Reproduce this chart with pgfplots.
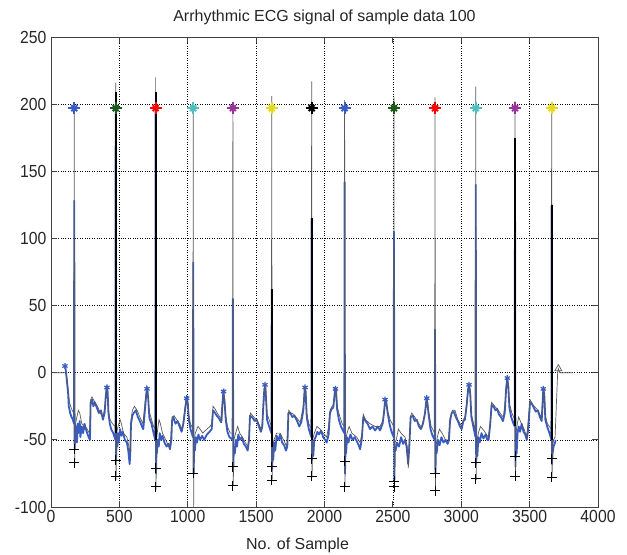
\documentclass[border=0pt]{standalone}
\usepackage{fontspec}
\setmainfont{Liberation Sans}[FakeStretch=0.9]
\newfontfamily\titlefont{Liberation Sans}
\usepackage{pgfplots}
\pgfplotsset{compat=1.18}
\usepackage{pgfplotstable}

\definecolor{ecgblue}{rgb}{0.22,0.36,0.76}
\definecolor{mdgreen}{rgb}{0.1,0.35,0.1}
\definecolor{mcyan}{rgb}{0.3,0.75,0.75}
\definecolor{mmag}{rgb}{0.6,0.2,0.6}
\definecolor{myel}{rgb}{0.9,0.85,0.1}

% thin grey trace
\pgfplotstableread{
x y
20 0
110 0
118 -5
125 -12
135 -22
150 -27
165 -30
168 -30
170 200
173 -68
177 -40
185 -35
200 -28
210 -30
225 -38
250 -40
265 -42
280 -45
285 -38
290 -20
300 -18
320 -22
340 -25
360 -30
380 -33
395 -25
405 -12
412 -12
420 -28
432 -35
450 -38
468 -40
471 -45
473 216
476 -80
480 -45
490 -40
505 -35
515 -38
530 -45
555 -48
570 -55
580 -60
585 -35
595 -28
610 -25
630 -28
650 -33
672 -38
690 -20
700 -10
708 -12
715 -28
730 -33
750 -40
763 -42
765 220
768 -87
772 -50
780 -42
790 -35
800 -38
815 -45
830 -48
848 -52
865 -55
875 -50
885 -33
900 -32
920 -35
940 -38
960 -42
975 -30
988 -18
996 -18
1005 -30
1020 -38
1038 -42
1040 198
1043 -100
1047 -50
1055 -45
1075 -40
1090 -42
1110 -45
1140 -42
1163 -40
1175 -38
1185 -25
1200 -27
1215 -30
1235 -33
1250 -35
1258 -15
1265 -13
1275 -30
1290 -40
1310 -45
1328 -45
1330 200
1333 -84
1337 -50
1350 -45
1365 -40
1380 -45
1400 -48
1420 -52
1440 -55
1450 -45
1458 -30
1475 -32
1500 -35
1520 -38
1540 -43
1555 -25
1563 -9
1570 -10
1578 -30
1595 -35
1612 -40
1614 206
1617 -80
1621 -55
1630 -50
1650 -45
1675 -45
1700 -50
1724 -55
1732 -45
1738 -28
1755 -30
1775 -31
1800 -34
1822 -37
1845 -25
1856 -11
1862 -12
1870 -30
1885 -38
1904 -42
1906 217
1909 -78
1913 -50
1925 -45
1945 -40
1967 -42
1990 -45
2016 -48
2030 -40
2040 -28
2055 -25
2065 -24
2078 -12
2085 -12
2092 -25
2110 -32
2130 -38
2145 -40
2147 203
2150 -85
2154 -50
2165 -45
2180 -40
2200 -45
2236 -48
2260 -52
2275 -45
2284 -31
2300 -35
2333 -38
2370 -40
2406 -40
2430 -35
2442 -20
2450 -20
2460 -28
2480 -35
2506 -40
2508 205
2511 -85
2515 -52
2525 -50
2540 -42
2560 -45
2589 -48
2605 -55
2613 -71
2620 -50
2630 -32
2638 -30
2660 -33
2690 -38
2711 -41
2735 -30
2746 -19
2752 -20
2760 -28
2780 -40
2806 -45
2808 205
2811 -88
2815 -55
2825 -48
2840 -42
2860 -45
2885 -50
2906 -50
2915 -40
2918 -34
2935 -28
2954 -28
2975 -35
3003 -40
3015 -35
3027 -33
3045 -18
3057 -10
3064 -12
3072 -30
3090 -38
3104 -42
3106 213
3109 -80
3113 -52
3125 -45
3140 -40
3165 -43
3198 -48
3210 -40
3222 -22
3245 -25
3271 -28
3290 -31
3308 -33
3325 -18
3336 -4
3342 -6
3350 -22
3370 -30
3391 -35
3393 202
3396 -78
3400 -45
3410 -38
3420 -33
3440 -38
3460 -42
3479 -48
3490 -35
3503 -20
3525 -24
3552 -27
3575 -31
3588 -34
3595 -20
3600 -12
3606 -14
3615 -32
3630 -38
3659 -42
3661 197
3664 -78
3668 -55
3675 -50
3686 -48
3695 -25
3705 0
3710 3
3720 0
3817 0
}\greytrace

% thick blue trace
\pgfplotstableread{
x y
102 5
108 2
115 -5
125 -15
130 -25
140 -30
150 -33
160 -35
168 -38
170 128
173 -57
177 -45
180 -50
185 -40
190 -52
195 -38
200 -45
210 -36
215 -48
225 -40
235 -45
245 -38
255 -42
265 -45
275 -48
285 -50
290 -22
300 -20
310 -25
320 -22
335 -26
350 -30
365 -28
380 -35
392 -30
400 -18
408 -10
414 -14
420 -30
430 -38
440 -42
455 -45
471 -50
473 200
476 -65
480 -50
485 -55
490 -45
495 -52
505 -42
515 -47
525 -44
540 -50
555 -52
565 -58
575 -68
580 -60
585 -38
595 -32
605 -30
620 -28
635 -33
650 -36
665 -40
675 -42
685 -30
695 -18
702 -12
710 -18
720 -34
735 -38
750 -45
763 -50
765 195
768 -75
772 -55
775 -60
780 -50
788 -55
795 -45
805 -50
815 -47
830 -52
845 -55
858 -53
870 -57
880 -50
885 -36
895 -33
910 -38
925 -36
940 -40
955 -44
968 -38
980 -28
992 -19
1000 -22
1008 -35
1020 -42
1038 -48
1040 82
1043 -75
1047 -55
1052 -58
1060 -48
1068 -52
1078 -46
1090 -50
1105 -47
1120 -50
1140 -46
1160 -44
1175 -42
1185 -28
1200 -30
1212 -32
1228 -34
1245 -37
1252 -25
1260 -15
1268 -20
1278 -35
1290 -44
1305 -48
1328 -50
1330 55
1333 -72
1337 -55
1345 -60
1352 -50
1360 -55
1370 -46
1380 -50
1395 -48
1410 -53
1425 -55
1438 -58
1448 -50
1455 -32
1470 -33
1490 -36
1505 -35
1520 -40
1535 -44
1545 -40
1552 -25
1560 -12
1567 -10
1574 -22
1580 -35
1595 -40
1612 -45
1614 62
1617 -72
1621 -60
1625 -65
1632 -52
1640 -58
1650 -47
1665 -50
1675 -46
1690 -52
1705 -54
1718 -58
1728 -55
1736 -30
1750 -30
1765 -33
1780 -32
1800 -36
1815 -40
1830 -37
1845 -28
1855 -12
1862 -14
1870 -33
1885 -42
1904 -48
1906 115
1909 -65
1913 -55
1918 -62
1925 -50
1935 -48
1948 -44
1960 -46
1975 -43
1990 -48
2005 -50
2016 -52
2030 -46
2040 -30
2052 -27
2064 -26
2072 -18
2078 -11
2085 -14
2092 -27
2105 -35
2120 -40
2145 -45
2147 142
2150 -75
2154 -55
2158 -60
2165 -48
2175 -52
2190 -46
2205 -50
2220 -48
2236 -51
2250 -54
2260 -57
2272 -50
2284 -33
2300 -36
2315 -38
2333 -42
2350 -40
2370 -43
2390 -40
2406 -43
2425 -38
2437 -28
2443 -20
2452 -22
2462 -30
2475 -38
2490 -44
2506 -48
2508 105
2511 -80
2515 -55
2520 -58
2530 -52
2545 -55
2560 -48
2575 -53
2589 -50
2600 -55
2612 -68
2620 -55
2630 -33
2645 -32
2660 -36
2675 -35
2690 -40
2705 -42
2720 -38
2735 -30
2745 -20
2752 -22
2760 -30
2775 -42
2790 -47
2806 -50
2808 32
2811 -75
2815 -57
2820 -60
2830 -50
2842 -54
2855 -48
2870 -52
2885 -50
2900 -53
2910 -50
2918 -36
2930 -30
2945 -29
2960 -33
2975 -36
2990 -40
3003 -42
3015 -36
3027 -35
3040 -24
3050 -12
3058 -9
3066 -16
3074 -33
3088 -40
3104 -48
3106 140
3109 -68
3113 -57
3118 -62
3125 -48
3135 -52
3148 -45
3162 -49
3178 -46
3190 -50
3200 -50
3212 -38
3222 -24
3235 -25
3250 -28
3263 -27
3275 -31
3290 -33
3305 -36
3318 -30
3328 -12
3336 -4
3344 -10
3352 -26
3365 -33
3378 -37
3391 -40
3393 170
3396 -70
3400 -50
3405 -60
3412 -45
3420 -40
3430 -44
3442 -38
3455 -44
3468 -46
3479 -50
3490 -42
3503 -22
3515 -23
3530 -26
3545 -29
3560 -28
3575 -33
3588 -36
3595 -22
3600 -12
3607 -16
3615 -35
3628 -40
3645 -45
3659 -50
3661 125
3664 -68
3668 -60
3675 -55
3686 -52
3690 -50
}\bluetrace

% thick black R-wave segments
\pgfplotstableread{
x y
473 -45
473 209
nan nan
765 -50
765 209
nan nan
1614 -55
1614 62
nan nan
1906 -50
1906 115
nan nan
3393 -40
3393 175
nan nan
3661 -50
3661 125
}\blackspikes

% detected R peaks
\pgfplotstableread{
x y c
170 197 a
473 197 b
765 197 c
1040 197 d
1330 197 e
1614 197 f
1906 197 g
2147 197 a
2508 197 b
2808 197 c
3106 197 d
3393 197 e
3661 197 f
}\rpeaks

% P wave peaks
\pgfplotstableread{
x y
102 5
409 -11
702 -12
992 -19
1262 -14
1565 -9
1858 -11
2080 -12
2443 -20
2748 -19
3057 -9
3337 -4
3600 -12
}\ppeaks

% S wave markers
\pgfplotstableread{
x y
170 -67
170 -57
473 -77
473 -65
765 -85
765 -71
1040 -75
1330 -84
1330 -70
1614 -80
1614 -70
1906 -77
1906 -64
2147 -85
2147 -66
2508 -85
2508 -81
2808 -88
2808 -75
3106 -79
3106 -67
3393 -77
3393 -62
3661 -78
3661 -64
}\swaves

\begin{document}
\begin{tikzpicture}
\begin{axis}[
  name=ax,
  width=547pt, height=470pt, scale only axis,
  xmin=0, xmax=4000, ymin=-100, ymax=250,
  xtick={0,500,...,4000}, ytick={-100,-50,...,250},
  tick align=inside, major tick length=6pt,
  xtick pos=both, ytick pos=both,
  grid=major,
  major grid style={black, dotted, line width=0.6pt},
  axis line style={black!75, line width=0.8pt},
  every tick/.style={black!75, line width=0.8pt},
  /pgf/number format/assume math mode=true,
  /pgf/number format/1000 sep={},
  tick label style={font=\fontsize{17.5}{19}\selectfont, black!85},
  yticklabel style={xshift=-1pt},
  label style={font=\titlefont\fontsize{16}{18}\selectfont, black!85},
  title style={font=\titlefont\fontsize{16}{18}\selectfont, black!85, yshift=3pt},
  title={Arrhythmic ECG signal of sample data 100},
  xlabel={No. of Sample},
  xlabel style={yshift=-8pt, xshift=-27pt},
  unbounded coords=jump,
  clip=true,
]
\addplot[ecgblue, line width=1.8pt, line join=round] table[x=x,y=y] {\bluetrace};
\addplot[black!65, line width=0.7pt] table[x=x,y=y] {\greytrace};
\addplot[black, line width=2.2pt] table[x=x,y=y] {\blackspikes};
\addplot[only marks, mark=+, mark size=5pt, black, line width=0.9pt] table[x=x,y=y] {\swaves};
\addplot[only marks, mark=asterisk, mark size=3pt, ecgblue, line width=1.2pt] table[x=x,y=y] {\ppeaks};
\addplot[only marks, mark=triangle, mark size=4pt, black!60, line width=0.8pt] coordinates {(3710,3)};
\addplot[scatter, only marks, point meta=explicit symbolic,
  scatter/classes={
    a={mark=+, ecgblue},
    b={mark=+, mdgreen},
    c={mark=+, red},
    d={mark=+, mcyan},
    e={mark=+, mmag},
    f={mark=+, myel},
    g={mark=+, black}},
  mark size=6pt, line width=2pt]
  table[x=x,y=y,meta=c] {\rpeaks};
\addplot[scatter, only marks, point meta=explicit symbolic,
  scatter/classes={
    a={mark=x, ecgblue},
    b={mark=x, mdgreen},
    c={mark=x, red},
    d={mark=x, mcyan},
    e={mark=x, mmag},
    f={mark=x, myel},
    g={mark=x, black}},
  mark size=4.2pt, line width=2pt]
  table[x=x,y=y,meta=c] {\rpeaks};
\end{axis}
\pgfresetboundingbox
\path[use as bounding box] ([xshift=-51pt,yshift=-47pt]ax.south west) rectangle ([xshift=29pt,yshift=37pt]ax.north east);
\end{tikzpicture}
\end{document}
